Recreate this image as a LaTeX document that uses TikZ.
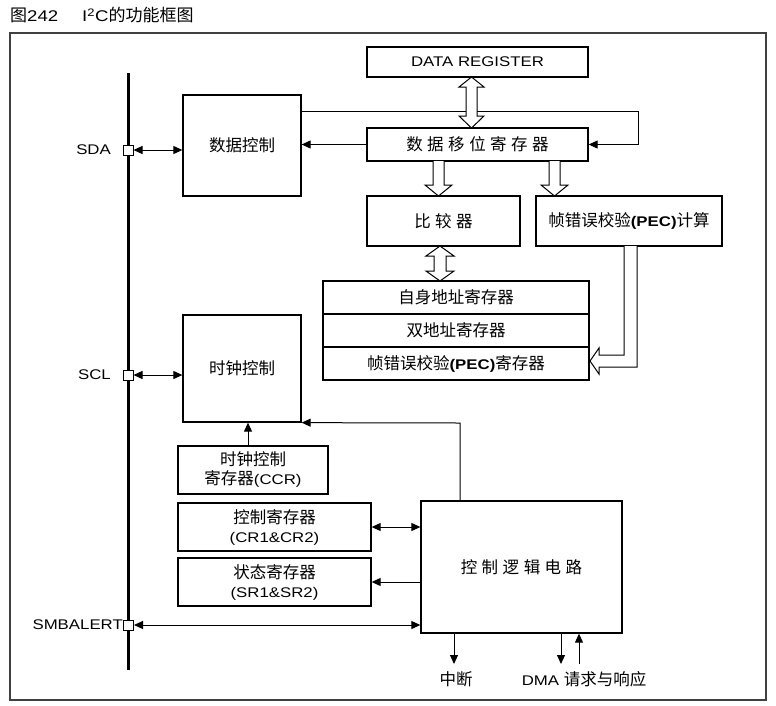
\documentclass[tikz,border=0pt]{standalone}
\usepackage{fontspec}
\setmainfont[FakeStretch=1.2]{Liberation Sans}
\newfontfamily\cjk{Noto Sans CJK SC}
\usetikzlibrary{arrows.meta}
\newcommand\zh[1]{{\cjk\fontsize{16.5}{19}\selectfont #1}}
\newcommand\gp{\kern4.5pt}
\tikzset{
  box/.style={draw, line width=1.3pt, fill=white, inner sep=0pt, align=center, font=\fontsize{14}{19}\selectfont},
  arr/.style={line width=1pt, -{Triangle[length=9pt,width=8pt]}},
  darr/.style={line width=1pt, {Triangle[length=9pt,width=8pt]}-{Triangle[length=9pt,width=8pt]}},
  hollow/.style={draw, line width=1pt, fill=white, line join=miter},
  pinbox/.style={draw, line width=1pt, fill=white, minimum size=10pt, inner sep=0pt},
  lbl/.style={inner sep=0pt, font=\fontsize{14}{18}\selectfont},
}
\begin{document}
\begin{tikzpicture}[x=1pt, y=-1pt]
\useasboundingbox (0,0) rectangle (776,705);
% title and frame
\node[lbl, anchor=west, font=\fontsize{15.5}{18}\selectfont] (title) at (10,15) {{\cjk\fontsize{17}{18}\selectfont 图}242\hspace{24pt}I\textsuperscript{2}C{\cjk\fontsize{17}{18}\selectfont 的功能框图}};
\draw[line width=1.5pt, draw=black!75] (10,33) rectangle (766,700);
% bus
\coordinate (bustop) at (128,73);
\coordinate (busbot) at (128,670);
\draw[line width=3pt] (bustop) -- (busbot);
% boxes
\node[box, minimum width=221pt, minimum height=30pt] (dreg) at (477.5,62) {DATA REGISTER};
\node[box, minimum width=221pt, minimum height=33pt] (shift) at (477.5,144.5) {\zh{数\gp 据\gp 移\gp 位\gp 寄\gp 存\gp 器}};
\node[box, minimum width=118pt, minimum height=101pt] (dctl) at (242,145.5) {\zh{数据控制}};
\node[box, minimum width=153pt, minimum height=50pt] (cmp) at (443.5,221) {\zh{比\gp 较\gp 器}};
\node[box, minimum width=186pt, minimum height=50pt] (pecc) at (629,221) {\zh{帧错误校验}\textbf{(PEC)}\zh{计算}};
\node[box, minimum width=266pt, minimum height=33pt] (st1) at (456,297.5) {\zh{自身地址寄存器}};
\node[box, minimum width=266pt, minimum height=33pt] (st2) at (456,330.5) {\zh{双地址寄存器}};
\node[box, minimum width=266pt, minimum height=33pt] (st3) at (456,363.5) {\zh{帧错误校验}\textbf{(PEC)}\zh{寄存器}};
\node[box, minimum width=118pt, minimum height=107pt] (cctl) at (242,368.5) {\zh{时钟控制}};
\node[box, minimum width=150pt, minimum height=48pt] (ccr) at (253,470) {\zh{时钟控制}\\\zh{寄存器}(CCR)};
\node[box, minimum width=193pt, minimum height=48pt] (cr) at (274.5,527) {\zh{控制寄存器}\\(CR1\&CR2)};
\node[box, minimum width=193pt, minimum height=48pt] (sr) at (274.5,582) {\zh{状态寄存器}\\(SR1\&SR2)};
\node[box, minimum width=201pt, minimum height=132pt] (logic) at (521.5,567) {\zh{控\gp 制\gp 逻\gp 辑\gp 电\gp 路}};
% pins
\node[pinbox] (sda) at (128,150) {};
\node[pinbox] (scl) at (128,375) {};
\node[pinbox] (smb) at (128.5,625) {};
\node[lbl, anchor=east] (sdal) at (111,150) {SDA};
\node[lbl, anchor=east] (scll) at (111,375) {SCL};
\node[lbl, anchor=east] (smbl) at (123,625) {SMBALERT};
% pin connectors
\draw[darr] (sda.east) -- (dctl.west |- sda.east);
\draw[darr] (scl.east) -- (cctl.west |- scl.east);
\draw[darr] (smb.east) -- (logic.west |- smb.east);
% data path
\draw[arr] (shift.west) -- (dctl.east |- shift.west);
\coordinate (fb) at (638,111);
\draw[line width=1pt] (dctl.east |- fb) -- (fb);
\draw[arr] (fb) |- (shift.east);
% hollow arrows
\draw[hollow] (466,87) -- (459,87) -- (471.5,77) -- (484,87) -- (477,87) -- (477,116) -- (484,116) -- (471.5,128) -- (459,116) -- (466,116) -- cycle;
\draw[hollow] (433,161) -- (433,185) -- (425,185) -- (438.5,196) -- (452,185) -- (444,185) -- (444,161);
\draw[hollow] (549,161) -- (549,185) -- (541,185) -- (554.5,196) -- (568,185) -- (560,185) -- (560,161);
\draw[hollow] (434,256) -- (426,256) -- (440,246) -- (454,256) -- (446,256) -- (446,271) -- (454,271) -- (440,281) -- (426,271) -- (434,271) -- cycle;
\draw[hollow] (624,246) -- (624,355) -- (599,355) -- (599,348) -- (590,361) -- (599,374) -- (599,367) -- (637,367) -- (637,246);
% clock
\draw[arr] ([xshift=-5pt]ccr.north) -- ([xshift=-5pt]ccr.north |- cctl.south);
\coordinate (lt) at (460,423);
\draw[arr] (logic.north -| lt) -- (lt) -- (cctl.south east);
% registers to logic
\draw[darr] (cr.east) -- (logic.west |- cr.east);
\draw[arr] (logic.west |- sr.east) -- (sr.east);
% outputs
\coordinate (intp) at (454,664);
\coordinate (dmad) at (561,664);
\coordinate (dmau) at (579,664);
\draw[arr] (logic.south -| intp) -- (intp);
\draw[arr] (logic.south -| dmad) -- (dmad);
\draw[arr] (dmau) -- (logic.south -| dmau);
\node[lbl] (intl) at (456,679) {\zh{中断}};
\node[lbl] (dmal) at (584,679) {DMA \zh{请求与响应}};
\end{tikzpicture}
\end{document}
